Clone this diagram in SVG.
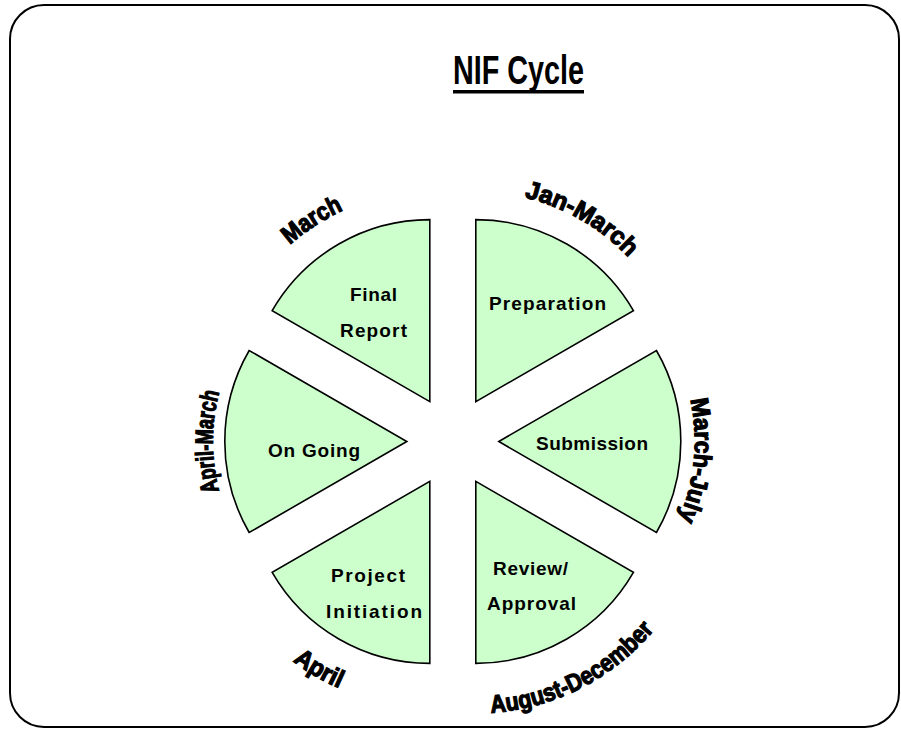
<svg xmlns="http://www.w3.org/2000/svg" width="901" height="731" viewBox="0 0 901 731">
<style>
.frame{fill:#fff;stroke:#000;stroke-width:2}
.wedge{fill:#ccffcc;stroke:#000;stroke-width:1.6;stroke-linejoin:miter}
.lbl{font-family:"Liberation Sans",Arial,sans-serif;font-weight:bold;font-size:19px;fill:#000}
.arc{font-family:"Liberation Sans",Arial,sans-serif;font-weight:bold;font-size:25px;fill:#000;stroke:#000;stroke-width:1.2}
.title{font-family:"Liberation Sans",Arial,sans-serif;font-weight:bold;font-size:40px;fill:#000}
</style>
<defs>
<path id="pJan" d="M505.0,193.7 A210,210 0 0 1 641.3,272.4" fill="none"/>
<path id="pMar" d="M268.9,266.7 A210,210 0 0 1 371.9,199.8" fill="none"/>
<path id="pMJ" d="M676.4,358.7 A196,196 0 0 1 657.4,556.7" fill="none"/>
<path id="pAug" d="M455.6,712.4 A232,232 0 0 0 674.7,600.8" fill="none"/>
<path id="pApr" d="M261.9,632.6 A226,226 0 0 0 379.0,701.5" fill="none"/>
<path id="pAM" d="M231,523.5 A194,194 0 0 1 231,359.5" fill="none"/>
</defs>
<rect class="frame" x="10" y="5" width="889" height="722" rx="34" ry="34"/>
<g id="title">
<text class="title" x="453" y="84" textLength="131" lengthAdjust="spacingAndGlyphs">NIF Cycle</text>
<rect x="453" y="90" width="131" height="3.5" fill="#000"/>
</g>
<g id="preparation">
<path class="wedge" d="M475.8,401.66 L475.8,219.66 A182,182 0 0 1 633.42,310.66 Z"/>
<text class="lbl" x="489" y="310" textLength="117">Preparation</text>
</g>
<g id="submission">
<path class="wedge" d="M498.8,441.5 L656.42,350.5 A182,182 0 0 1 656.42,532.5 Z"/>
<text class="lbl" x="536" y="450" textLength="112">Submission</text>
</g>
<g id="review">
<path class="wedge" d="M475.8,481.34 L633.42,572.34 A182,182 0 0 1 475.8,663.34 Z"/>
<text class="lbl" x="493" y="575" textLength="75">Review/</text>
<text class="lbl" x="487" y="610" textLength="89">Approval</text>
</g>
<g id="project-initiation">
<path class="wedge" d="M429.8,481.34 L429.8,663.34 A182,182 0 0 1 272.18,572.34 Z"/>
<text class="lbl" x="331" y="582" textLength="74">Project</text>
<text class="lbl" x="326" y="618" textLength="96">Initiation</text>
</g>
<g id="on-going">
<path class="wedge" d="M406.8,441.5 L249.18,532.5 A182,182 0 0 1 249.18,350.5 Z"/>
<text class="lbl" x="268" y="457" textLength="92">On Going</text>
</g>
<g id="final-report">
<path class="wedge" d="M429.8,401.66 L272.18,310.66 A182,182 0 0 1 429.8,219.66 Z"/>
<text class="lbl" x="350" y="301" textLength="47">Final</text>
<text class="lbl" x="340" y="337" textLength="67">Report</text>
</g>
<g id="period-labels">
<text class="arc" text-anchor="middle"><textPath href="#pJan" startOffset="50%" textLength="122" lengthAdjust="spacingAndGlyphs">Jan-March</textPath></text>
<text class="arc" text-anchor="middle"><textPath href="#pMar" startOffset="50%" textLength="64" lengthAdjust="spacingAndGlyphs">March</textPath></text>
<text class="arc" text-anchor="middle"><textPath href="#pMJ" startOffset="50%" textLength="122" lengthAdjust="spacingAndGlyphs">March-July</textPath></text>
<text class="arc" text-anchor="middle"><textPath href="#pAug" startOffset="50%" textLength="188" lengthAdjust="spacingAndGlyphs">August-December</textPath></text>
<text class="arc" text-anchor="middle"><textPath href="#pApr" startOffset="50%" textLength="54" lengthAdjust="spacingAndGlyphs">April</textPath></text>
<text class="arc" text-anchor="middle"><textPath href="#pAM" startOffset="50%" textLength="100" lengthAdjust="spacingAndGlyphs">April-March</textPath></text>
</g>
</svg>
